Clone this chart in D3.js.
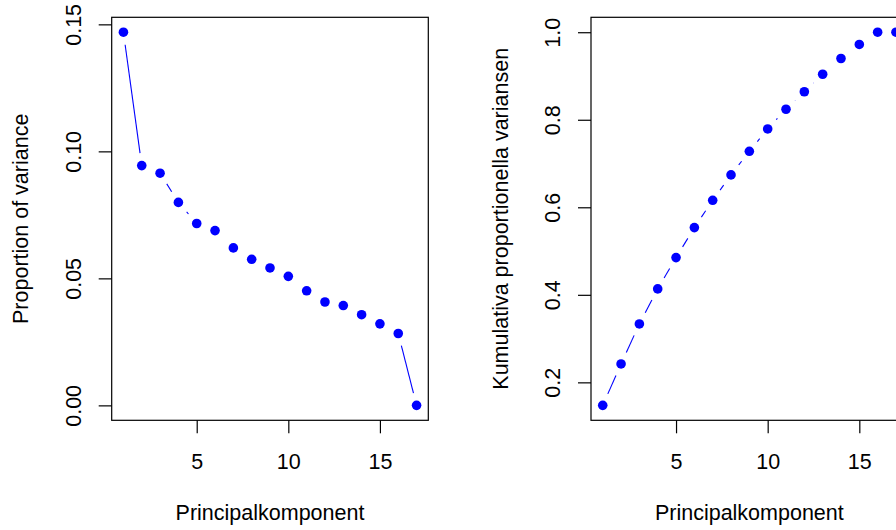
<!DOCTYPE html>
<html>
<head>
<meta charset="utf-8">
<script src="https://cdn.jsdelivr.net/npm/d3@7"></script>
<style>
  html, body { margin: 0; padding: 0; background: #fff; }
  svg { display: block; }
  text { font-family: "Liberation Sans", Arial, Helvetica, sans-serif; fill: #000; }
</style>
</head>
<body>
<svg id="chart" width="896" height="530"></svg>
<script>
// ---- data ----
const components = [1, 2, 3, 4, 5, 6, 7, 8, 9, 10, 11, 12, 13, 14, 15, 16, 17];
const propVariance = [0.1469, 0.0944, 0.0914, 0.0799, 0.0716, 0.0688, 0.0620, 0.0575, 0.0541,
                      0.0508, 0.0451, 0.0407, 0.0393, 0.0357, 0.0321, 0.0283, 0.0000];
const cumVariance = [0.1474, 0.2421, 0.3335, 0.4135, 0.4850, 0.5536, 0.6160, 0.6740, 0.7280,
                     0.7790, 0.8240, 0.8640, 0.9040, 0.9400, 0.9720, 1.0000, 1.0000];
const xTicks = [5, 10, 15];
const leftYTicks = [0.00, 0.05, 0.10, 0.15];
const rightYTicks = [0.2, 0.4, 0.6, 0.8, 1.0];
const xLabel = "Principalkomponent";
const leftYLabel = "Proportion of variance";
const rightYLabel = "Kumulativa proportionella variansen";

// ---- layout ----
const FONT = 21.5;
const boxTop = 17.3, boxBottom = 420.3;
const panels = [
  { left: 111.7, right: 428.3, values: propVariance, yTicks: leftYTicks, fmt: d3.format(".2f"), ylab: leftYLabel },
  { left: 591.0, right: 907.7, values: cumVariance, yTicks: rightYTicks, fmt: d3.format(".1f"), ylab: rightYLabel }
];

const svg = d3.select("#chart");

function padded(ext) {
  const r = ext[1] - ext[0];
  return [ext[0] - 0.04 * r, ext[1] + 0.04 * r];
}

panels.forEach(p => {
  const x = d3.scaleLinear().domain(padded(d3.extent(components))).range([p.left, p.right]);
  const y = d3.scaleLinear().domain(padded(d3.extent(p.values))).range([boxBottom, boxTop]);
  const g = svg.append("g");

  // segments (R type="b": lines with gaps around points)
  const gap = 12.6;
  const pts = components.map((c, i) => [x(c), y(p.values[i])]);
  for (let i = 0; i < pts.length - 1; i++) {
    const [x0, y0] = pts[i], [x1, y1] = pts[i + 1];
    const dx = x1 - x0, dy = y1 - y0;
    const dist = Math.hypot(dx, dy);
    if (dist > 2 * gap) {
      const ux = dx / dist * gap, uy = dy / dist * gap;
      g.append("line")
        .attr("x1", x0 + ux).attr("y1", y0 + uy)
        .attr("x2", x1 - ux).attr("y2", y1 - uy)
        .attr("stroke", "#0000ff").attr("stroke-width", 1.1);
    }
  }

  // points
  g.selectAll("circle").data(components).join("circle")
    .attr("cx", d => x(d))
    .attr("cy", (d, i) => y(p.values[i]))
    .attr("r", 4.8)
    .attr("fill", "#0000ff");

  // box
  g.append("rect")
    .attr("x", p.left).attr("y", boxTop)
    .attr("width", p.right - p.left).attr("height", boxBottom - boxTop)
    .attr("fill", "none").attr("stroke", "#000").attr("stroke-width", 1.2);

  // x axis
  const xa = g.append("g").attr("transform", `translate(0,${boxBottom})`)
    .call(d3.axisBottom(x).tickValues(xTicks).tickSize(13).tickFormat(d3.format("d")));
  xa.select(".domain").remove();
  xa.selectAll(".tick line").attr("stroke", "#000").attr("stroke-width", 1.2);
  xa.selectAll(".tick text").attr("y", 49).attr("dy", 0)
    .style("font-size", FONT + "px").attr("fill", "#000")
    .style("font-family", '"Liberation Sans", Arial, Helvetica, sans-serif');

  // y axis
  const ya = g.append("g").attr("transform", `translate(${p.left},0)`)
    .call(d3.axisLeft(y).tickValues(p.yTicks).tickSize(13).tickFormat(p.fmt));
  ya.select(".domain").remove();
  ya.selectAll(".tick line").attr("stroke", "#000").attr("stroke-width", 1.2);
  ya.selectAll(".tick text")
    .attr("x", null).attr("dy", null)
    .attr("transform", "translate(-31,0) rotate(-90)")
    .attr("text-anchor", "middle")
    .style("font-size", FONT + "px").attr("fill", "#000")
    .style("font-family", '"Liberation Sans", Arial, Helvetica, sans-serif');

  // x label
  g.append("text")
    .attr("x", (p.left + p.right) / 2).attr("y", 519.5)
    .attr("text-anchor", "middle")
    .style("font-size", FONT + "px")
    .text(xLabel);

  // y label
  const cy = (boxTop + boxBottom) / 2;
  g.append("text")
    .attr("transform", `translate(${p.left - 83.4},${cy}) rotate(-90)`)
    .attr("text-anchor", "middle")
    .style("font-size", FONT + "px")
    .text(p.ylab);
});
</script>
</body>
</html>
